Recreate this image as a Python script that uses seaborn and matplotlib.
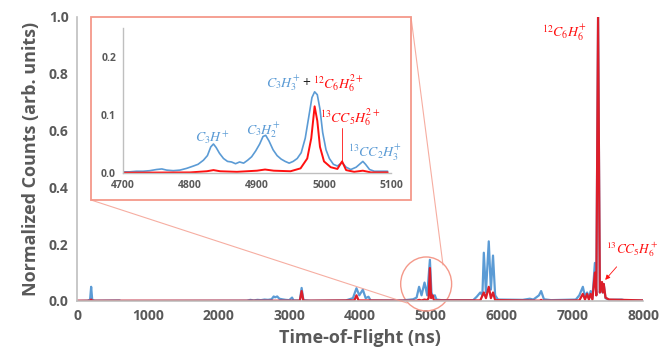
import matplotlib
matplotlib.use("Agg")
from matplotlib import pyplot as plt
from matplotlib.patches import Rectangle, Ellipse, ConnectionPatch
from matplotlib.ticker import FormatStrFormatter
import seaborn as sns

# Main spectrum (time-of-flight in ns, normalized counts)
tof_blue = [0, 150, 185, 200, 215, 250, 600, 620, 2400, 2450, 2500, 2550, 2600, 2650, 2700, 2750,
            2780, 2800, 2830, 2860, 2900, 2950, 3000, 3040, 3060, 3150, 3175, 3200, 3300, 3800, 3900,
            3950, 3990, 4040, 4080, 4120, 4150, 4600, 4750, 4800, 4835, 4870, 4912, 4950, 4988, 5010,
            5030, 5058, 5080, 5150, 5600, 5650, 5700, 5730, 5750, 5780, 5820, 5850, 5880, 5910, 5950,
            6300, 6400, 6450, 6530, 6560, 6600, 6700, 7050, 7100, 7150, 7180, 7210, 7235, 7260, 7285,
            7320, 7340, 7365, 7390, 7420, 7430, 7445, 7470, 7520, 7700, 7750, 8000]
counts_blue = [0.0, 0.001, 0.005, 0.05, 0.004, 0.001, 0.002, 0.0, 0.001, 0.004, 0.002, 0.004, 0.003,
               0.005, 0.004, 0.006, 0.016, 0.013, 0.016, 0.008, 0.006, 0.004, 0.003, 0.012, 0.002,
               0.002, 0.046, 0.003, 0.001, 0.002, 0.01, 0.045, 0.02, 0.04, 0.01, 0.015, 0.002, 0.002,
               0.006, 0.012, 0.05, 0.02, 0.065, 0.02, 0.145, 0.03, 0.015, 0.02, 0.005, 0.003, 0.003,
               0.015, 0.03, 0.02, 0.17, 0.03, 0.21, 0.04, 0.16, 0.02, 0.005, 0.004, 0.008, 0.005, 0.02,
               0.035, 0.006, 0.003, 0.005, 0.02, 0.05, 0.015, 0.03, 0.01, 0.035, 0.01, 0.134, 0.02,
               1.0, 0.03, 0.06, 0.03, 0.06, 0.01, 0.004, 0.005, 0.002, 0.002]

tof_red = [0, 185, 200, 215, 3150, 3175, 3200, 3920, 3950, 3980, 4800, 4835, 4870, 4912, 4950, 4970,
           4988, 5005, 5027, 5045, 5700, 5750, 5780, 5820, 5850, 5880, 5910, 6540, 6560, 6580, 7100,
           7150, 7180, 7210, 7235, 7260, 7285, 7320, 7340, 7365, 7390, 7420, 7432, 7445, 7470, 7520,
           7700, 8000]
counts_red = [0.001, 0.001, 0.005, 0.001, 0.001, 0.035, 0.001, 0.002, 0.02, 0.002, 0.001, 0.004, 0.002,
              0.005, 0.003, 0.01, 0.116, 0.01, 0.02, 0.002, 0.002, 0.03, 0.01, 0.05, 0.01, 0.03, 0.003,
              0.001, 0.004, 0.001, 0.002, 0.025, 0.005, 0.025, 0.005, 0.025, 0.005, 0.1, 0.02, 1.0,
              0.03, 0.067, 0.03, 0.06, 0.012, 0.005, 0.004, 0.002]

# Inset spectrum 4700-5100 ns
tof_inset_blue = [4700, 4710, 4720, 4730, 4740, 4750, 4758, 4765, 4775, 4785, 4795, 4805, 4812, 4820,
                  4826, 4831, 4835, 4839, 4844, 4850, 4856, 4862, 4868, 4874, 4880, 4886, 4892, 4898,
                  4904, 4909, 4913, 4918, 4924, 4930, 4936, 4942, 4948, 4954, 4960, 4966, 4972, 4977,
                  4982, 4986, 4990, 4994, 4998, 5003, 5008, 5014, 5020, 5027, 5033, 5040, 5048, 5054,
                  5058, 5062, 5068, 5075, 5085, 5095]
counts_inset_blue = [0.002, 0.002, 0.003, 0.003, 0.004, 0.006, 0.007, 0.005, 0.004, 0.005, 0.008,
                     0.012, 0.015, 0.022, 0.03, 0.045, 0.05, 0.044, 0.034, 0.025, 0.02, 0.019, 0.016,
                     0.019, 0.017, 0.022, 0.028, 0.038, 0.05, 0.063, 0.065, 0.055, 0.04, 0.03, 0.024,
                     0.02, 0.017, 0.02, 0.025, 0.035, 0.06, 0.095, 0.13, 0.14, 0.135, 0.11, 0.07, 0.04,
                     0.025, 0.015, 0.012, 0.018, 0.01, 0.006, 0.01, 0.016, 0.02, 0.015, 0.006, 0.003,
                     0.003, 0.003]
tof_inset_red = [4700, 4800, 4825, 4835, 4845, 4870, 4900, 4912, 4925, 4950, 4965, 4975, 4981, 4986,
                 4990, 4994, 5000, 5010, 5020, 5027, 5033, 5045, 5058, 5070, 5095]
counts_inset_red = [0.0005, 0.001, 0.003, 0.005, 0.003, 0.002, 0.004, 0.006, 0.004, 0.003, 0.008,
                    0.025, 0.06, 0.115, 0.09, 0.045, 0.02, 0.01, 0.007, 0.02, 0.005, 0.002, 0.004,
                    0.001, 0.001]

blue = "#5b9bd5"
red_main = "#dc1e2a"
red = "#ff1010"
grey = "#595959"
salmon = "#f4998a"

sns.set_theme(style="white")
plt.rcParams["font.family"] = ["Open Sans", "DejaVu Sans"]
plt.rcParams["mathtext.fontset"] = "stix"

fig = plt.figure(figsize=(6.61, 3.59), dpi=100)
ax = fig.add_axes([77 / 661, 1 - 301 / 359, 566 / 661, 284 / 359])

sns.lineplot(x=tof_blue, y=counts_blue, ax=ax, color=blue, lw=1.6)
sns.lineplot(x=tof_red, y=counts_red, ax=ax, color=red_main, lw=1.6)
ax.set_xlim(0, 8000)
ax.set_ylim(0, 1.0)
ax.set_yticks([0, 0.2, 0.4, 0.6, 0.8, 1.0])
ax.yaxis.set_major_formatter(FormatStrFormatter("%.1f"))
ax.tick_params(labelsize=10, colors=grey, length=0, pad=6)
for lab in ax.get_xticklabels() + ax.get_yticklabels():
    lab.set_fontweight("bold")
ax.set_xlabel("Time-of-Flight (ns)", fontsize=13, fontweight="bold", color=grey, labelpad=4)
ax.set_ylabel("Normalized Counts (arb. units)", fontsize=13, fontweight="bold", color=grey, labelpad=6)
sns.despine(ax=ax)
for s in ["left", "bottom"]:
    ax.spines[s].set_color("#bfbfbf")
    ax.spines[s].set_linewidth(1.2)

ax.text(7210, 0.945, r"$^{12}C_6H_6^{+}$", color=red, fontsize=10, ha="right", va="center")
ax.annotate(r"$^{13}CC_5H_6^{+}$", xy=(7440, 0.067), xytext=(7470, 0.18), color=red, fontsize=9.5,
            ha="left", va="center",
            arrowprops=dict(arrowstyle="-|>", color=red, lw=0.6, mutation_scale=7, shrinkA=4))

# zoom circle and connector lines
ax.add_patch(Ellipse((4935, 0.06), 720, 0.19, fill=False, ec=salmon, lw=1.0, clip_on=False))
frame = Rectangle((91 / 661, 1 - 200 / 359), 320 / 661, 183 / 359, transform=fig.transFigure,
                  fc="white", ec=salmon, lw=1.3, zorder=5)
ax.add_patch(frame)
frame.set_clip_on(False)
for pa, pb in [((91 / 661, 1 - 200 / 359), (4664, -0.007)), ((411 / 661, 1 - 17 / 359), (5173, 0.127))]:
    con = ConnectionPatch(xyA=pa, coordsA=fig.transFigure, xyB=pb, coordsB=ax.transData,
                          color=salmon, lw=0.8, alpha=0.8)
    fig.add_artist(con)

# inset
axi = fig.add_axes([123 / 661, 1 - 173 / 359, 268 / 661, 145 / 359])
axi.set_zorder(6)
axi.patch.set_alpha(0)
sns.lineplot(x=tof_inset_blue, y=counts_inset_blue, ax=axi, color=blue, lw=1.2)
sns.lineplot(x=tof_inset_red, y=counts_inset_red, ax=axi, color=red, lw=1.4)
axi.set_xlim(4700, 5100)
axi.set_ylim(0, 0.25)
axi.set_xticks([4700, 4800, 4900, 5000, 5100])
axi.set_yticks([0, 0.1, 0.2])
axi.yaxis.set_major_formatter(FormatStrFormatter("%.1f"))
axi.tick_params(labelsize=7.5, colors=grey, length=0, pad=5)
for lab in axi.get_xticklabels() + axi.get_yticklabels():
    lab.set_fontweight("bold")
sns.despine(ax=axi)
for s in ["left", "bottom"]:
    axi.spines[s].set_color("#bfbfbf")
    axi.spines[s].set_linewidth(1.0)

axi.text(4833, 0.061, r"$C_3H^{+}$", color=blue, fontsize=10, ha="center", va="center")
axi.text(4909, 0.074, r"$C_3H_2^{+}$", color=blue, fontsize=10, ha="center", va="center")
axi.text(4964, 0.155, r"$C_3H_3^{+}$", color=blue, fontsize=10, ha="right", va="center")
axi.text(4973, 0.155, "+", color="#222222", fontsize=10, ha="center", va="center")
axi.text(4984, 0.155, r"$^{12}C_6H_6^{2+}$", color=red, fontsize=10, ha="left", va="center")
axi.text(5039, 0.097, r"$^{13}CC_5H_6^{2+}$", color=red, fontsize=10, ha="center", va="center")
axi.plot([5027, 5027], [0.078, 0.021], color=red, lw=0.6)
axi.text(5076, 0.034, r"$^{13}CC_2H_3^{+}$", color=blue, fontsize=10, ha="center", va="center")

fig.savefig("out.png", dpi=100)
